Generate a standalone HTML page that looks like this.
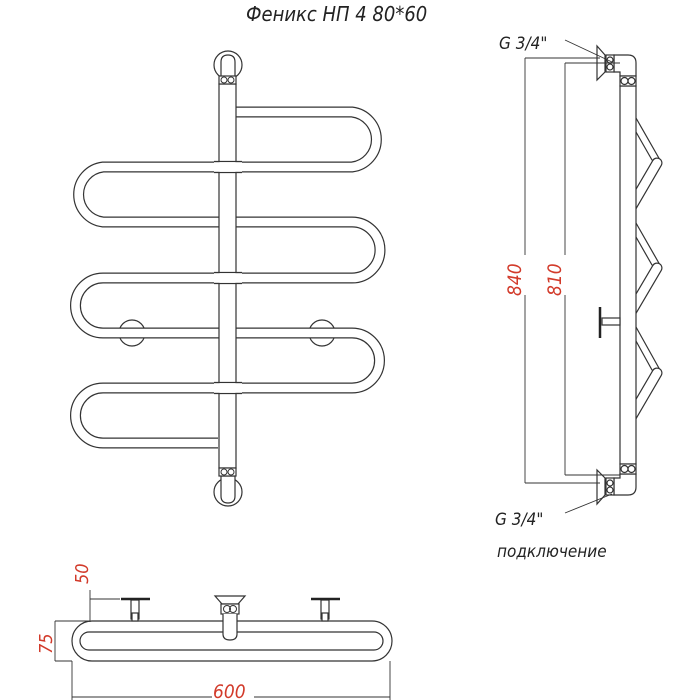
<!DOCTYPE html>
<html><head><meta charset="utf-8"><style>
html,body{margin:0;padding:0;background:#fff;}
svg{display:block;}
text{font-family:"DejaVu Sans Condensed","DejaVu Sans","Liberation Sans",sans-serif;font-style:italic;}
</style></head><body>
<svg width="700" height="700" viewBox="0 0 700 700" xmlns="http://www.w3.org/2000/svg">
<rect width="700" height="700" fill="#fff"/>
<text x="246" y="21" font-size="20" fill="#222">Феникс НП 4 80*60</text>

<!-- FRONT VIEW -->
<g fill="#fff" stroke="#333" stroke-width="1.2">
  <circle cx="132" cy="333" r="13"/>
  <circle cx="322" cy="333" r="13"/>
  <circle cx="228" cy="65" r="14"/>
  <circle cx="228" cy="492" r="14"/>
</g>
<path d="M236 112 H352 A27.7 27.7 0 0 1 352 167 H103 A27.7 27.7 0 0 0 103 222 H352 A27.8 27.8 0 0 1 352 278 H103 A27.5 27.5 0 0 0 103 333 H352 A27.5 27.5 0 0 1 352 388 H103 A27.5 27.5 0 0 0 103 443 H218" fill="none" stroke="#333" stroke-width="11"/>
<path d="M236 112 H352 A27.7 27.7 0 0 1 352 167 H103 A27.7 27.7 0 0 0 103 222 H352 A27.8 27.8 0 0 1 352 278 H103 A27.5 27.5 0 0 0 103 333 H352 A27.5 27.5 0 0 1 352 388 H103 A27.5 27.5 0 0 0 103 443 H218" fill="none" stroke="#fff" stroke-width="8.6"/>
<rect x="219" y="84" width="17" height="384" fill="#fff" stroke="#333" stroke-width="1.2"/>
<path d="M221 77 V62 Q221 55 228 55 Q235 55 235 62 V77 Z" fill="#fff" stroke="#333" stroke-width="1.2"/>
<rect x="219" y="76" width="17" height="8" fill="#fff" stroke="#333" stroke-width="1.2"/>
<circle cx="224" cy="80" r="3" fill="none" stroke="#333"/><circle cx="231" cy="80" r="3" fill="none" stroke="#333"/>
<path d="M221 476 V496 Q221 503 228 503 Q235 503 235 496 V476 Z" fill="#fff" stroke="#333" stroke-width="1.2"/>
<rect x="219" y="468" width="17" height="8" fill="#fff" stroke="#333" stroke-width="1.2"/>
<circle cx="224" cy="472" r="3" fill="none" stroke="#333"/><circle cx="231" cy="472" r="3" fill="none" stroke="#333"/>
<g fill="#fff" stroke="#333" stroke-width="1.2">
  <path d="M214 161.5 H242 M214 172.5 H242" />
  <path d="M214 272.5 H242 M214 283.5 H242" />
  <path d="M214 382.5 H242 M214 393.5 H242" />
</g>
<rect x="214" y="162.2" width="28" height="9.6" fill="#fff"/>
<rect x="214" y="273.2" width="28" height="9.6" fill="#fff"/>
<rect x="214" y="383.2" width="28" height="9.6" fill="#fff"/>

<!-- SIDE VIEW -->
<g stroke="#333" stroke-width="1.2" fill="#fff">
  <g stroke-linecap="round" fill="none">
    <path d="M636 118 L660 160"/>
    <path d="M636 132 L652 160"/>
    <path d="M636 223 L660 265"/>
    <path d="M636 237 L652 265"/>
    <path d="M636 327 L660 370"/>
    <path d="M636 341 L652 370"/>
  </g>
  <line x1="657" y1="163" x2="629" y2="211" stroke="#333" stroke-width="11" stroke-linecap="round"/>
  <line x1="657" y1="163" x2="629" y2="211" stroke="#fff" stroke-width="8.6" stroke-linecap="round"/>
  <line x1="657" y1="268" x2="627" y2="319" stroke="#333" stroke-width="11" stroke-linecap="round"/>
  <line x1="657" y1="268" x2="627" y2="319" stroke="#fff" stroke-width="8.6" stroke-linecap="round"/>
  <line x1="657" y1="373" x2="629" y2="421" stroke="#333" stroke-width="11" stroke-linecap="round"/>
  <line x1="657" y1="373" x2="629" y2="421" stroke="#fff" stroke-width="8.6" stroke-linecap="round"/>
  <rect x="620" y="86" width="16" height="378" />
  <path d="M614 55 H628 Q636 55 636 63 V76 H620 V72 L614 72 Z"/>
  <rect x="620" y="76" width="16" height="10"/>
  <circle cx="624.5" cy="81" r="3.5" fill="none"/><circle cx="631.5" cy="81" r="3.5" fill="none"/>
  <rect x="606" y="55" width="8" height="17"/>
  <circle cx="610" cy="60" r="3" fill="none"/><circle cx="610" cy="67" r="3" fill="none"/>
  <path d="M605 55 L597 46 V80 L605 72 Z"/>
  <path d="M614 495 H628 Q636 495 636 487 V474 H620 V478 L614 478 Z"/>
  <rect x="620" y="464" width="16" height="10"/>
  <circle cx="624.5" cy="469" r="3.5" fill="none"/><circle cx="631.5" cy="469" r="3.5" fill="none"/>
  <rect x="606" y="478" width="8" height="17"/>
  <circle cx="610" cy="483" r="3" fill="none"/><circle cx="610" cy="490" r="3" fill="none"/>
  <path d="M605 478 L597 470 V504 L605 495 Z"/>
  <rect x="602" y="318" width="18" height="7"/>
</g>
<line x1="600" y1="307" x2="600" y2="338" stroke="#222" stroke-width="2.5"/>
<g stroke="#333" stroke-width="0.9" fill="none">
  <line x1="525" y1="58" x2="525" y2="483"/>
  <line x1="525" y1="58" x2="600" y2="58"/>
  <line x1="525" y1="483" x2="600" y2="483"/>
  <line x1="565" y1="63" x2="565" y2="475"/>
  <line x1="565" y1="63" x2="620" y2="63"/>
  <line x1="565" y1="475" x2="620" y2="475"/>
  <line x1="565" y1="40" x2="612" y2="62"/>
  <line x1="565" y1="513" x2="612" y2="494"/>
</g>
<rect x="517" y="255" width="16" height="40" fill="#fff"/>
<rect x="557" y="255" width="16" height="40" fill="#fff"/>
<text transform="translate(521,296) rotate(-90)" font-size="19" fill="#d23a2a">840</text>
<text transform="translate(561,296) rotate(-90)" font-size="19" fill="#d23a2a">810</text>
<text x="499" y="49" font-size="17" fill="#222">G 3/4"</text>
<text x="495" y="525" font-size="17" fill="#222">G 3/4"</text>
<text x="497" y="557" font-size="17" fill="#222">подключение</text>

<!-- TOP VIEW -->
<g stroke="#333" stroke-width="1.2" fill="#fff">
  <rect x="72" y="621" width="320" height="40" rx="20"/>
  <rect x="80" y="632" width="303" height="18" rx="9"/>
  <rect x="131" y="600" width="8" height="19"/>
  <rect x="132" y="613" width="6" height="8"/>
  <rect x="321" y="600" width="8" height="19"/>
  <rect x="322" y="613" width="6" height="8"/>
  <path d="M222 604 L215 596 H245 L238 604 Z"/>
  <rect x="221" y="604" width="18" height="10"/>
  <path d="M223 614 V634 Q223 640 230 640 Q237 640 237 634 V614"/>
</g>
<circle cx="227" cy="609" r="3.5" fill="none" stroke="#333"/><circle cx="233" cy="609" r="3.5" fill="none" stroke="#333"/>
<line x1="121" y1="599" x2="150" y2="599" stroke="#222" stroke-width="2.5"/>
<line x1="311" y1="599" x2="340" y2="599" stroke="#222" stroke-width="2.5"/>
<g stroke="#333" stroke-width="0.9" fill="none">
  <line x1="90" y1="590" x2="90" y2="622"/>
  <line x1="90" y1="599" x2="120" y2="599"/>
  <line x1="55" y1="621" x2="90" y2="621"/>
  <line x1="55" y1="621" x2="55" y2="661"/>
  <line x1="55" y1="661" x2="72" y2="661"/>
  <line x1="72" y1="661" x2="72" y2="700"/>
  <line x1="390" y1="661" x2="390" y2="700"/>
  <line x1="72" y1="697" x2="390" y2="697"/>
</g>
<rect x="212" y="685" width="42" height="14" fill="#fff"/>
<text transform="translate(88,584) rotate(-90)" font-size="18" fill="#d23a2a">50</text>
<text transform="translate(52,654) rotate(-90)" font-size="18" fill="#d23a2a">75</text>
<text x="213" y="698" font-size="19" fill="#d23a2a">600</text>
</svg>
</body></html>
